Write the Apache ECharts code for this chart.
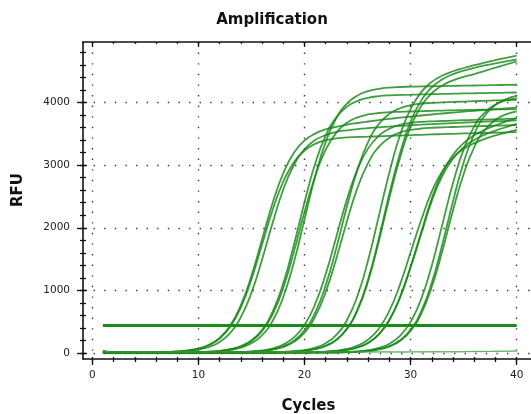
<!DOCTYPE html>
<html><head><meta charset="utf-8">
<script src="https://cdn.jsdelivr.net/npm/echarts@6/dist/echarts.min.js"></script>
<style>html,body{margin:0;padding:0;background:#fff}#c{width:531px;height:414px}</style>
</head><body><div id="c"></div>
<script>
const cycles = [1,2,3,4,5,6,7,8,9,10,11,12,13,14,15,16,17,18,19,20,21,22,23,24,25,26,27,28,29,30,31,32,33,34,35,36,37,38,39,40];
const xMajor = [0,10,20,30,40];
const xMinor = [0,2,4,6,8,10,12,14,16,18,20,22,24,26,28,30,32,34,36,38,40];
const yMajor = [0,1000,2000,3000,4000];
const yMinor = [0,200,400,600,800,1000,1200,1400,1600,1800,2000,2200,2400,2600,2800,3000,3200,3400,3600,3800,4000,4200,4400,4600,4800];
const thresholdValue = 440;
const thresholdCycles = [1,40];

const g1a = [12,9,8,9,10,12,17,25,40,70,127,232,419,728,1178,1733,2288,2738,3047,3234,3339,3396,3426,3442,3449,3454,3460,3466,3472,3478,3484,3490,3495,3500,3505,3510,3514,3518,3522,3526];
const g1b = [30,10,8,9,8,10,14,20,32,54,97,177,323,574,965,1494,2082,2611,3002,3253,3399,3479,3530,3556,3575,3590,3603,3615,3626,3636,3645,3654,3662,3670,3678,3686,3693,3700,3707,3714];
const g1c = [9,10,8,9,11,13,18,25,42,73,133,243,440,764,1236,1818,2400,2873,3197,3393,3503,3570,3612,3645,3672,3696,3718,3738,3757,3775,3792,3808,3824,3839,3853,3867,3880,3893,3905,3917];
const g2a = [11,9,10,8,9,10,9,11,12,15,22,36,62,111,203,372,663,1116,1728,2408,3020,3473,3764,3933,4025,4074,4100,4114,4120,4124,4128,4132,4136,4140,4144,4147,4150,4153,4156,4159];
const g2b = [9,10,8,9,11,10,9,10,11,13,18,28,48,85,155,284,515,895,1450,2133,2816,3371,3751,3982,4111,4182,4218,4238,4247,4252,4256,4259,4262,4265,4268,4271,4274,4277,4280,4283];
const g2c = [35,9,8,10,9,11,10,9,10,15,21,34,58,104,190,348,620,1043,1615,2251,2823,3246,3518,3676,3762,3808,3832,3845,3851,3856,3861,3866,3870,3874,3878,3882,3885,3888,3891,3894];
const g3a = [10,8,9,11,9,10,8,9,10,11,9,10,13,17,26,42,75,136,249,449,780,1263,1858,2453,2936,3267,3468,3580,3641,3674,3690,3699,3704,3710,3716,3722,3727,3732,3737,3742];
const g3b = [9,11,10,8,9,10,9,11,8,10,9,10,11,15,22,35,60,108,198,362,644,1084,1678,2338,2932,3372,3654,3818,3908,3956,3981,3994,4001,4008,4014,4020,4026,4032,4037,4042];
const g3c = [10,9,8,10,11,9,10,8,9,11,10,9,10,14,20,32,55,98,179,326,580,976,1511,2105,2640,3036,3290,3437,3518,3561,3584,3596,3602,3608,3614,3619,3624,3629,3634,3639];
const g4a = [28,9,10,8,9,10,11,9,8,10,9,11,10,9,10,11,14,19,29,48,86,158,291,527,916,1484,2183,2882,3480,3899,4165,4328,4430,4498,4550,4595,4636,4675,4712,4748];
const g4b = [10,8,9,11,9,10,9,8,10,11,9,10,8,9,11,10,12,16,23,36,63,114,209,384,683,1151,1782,2484,3115,3613,3942,4147,4272,4353,4410,4454,4505,4555,4606,4657];
const g4c = [9,10,8,10,9,11,10,9,8,10,9,11,10,8,9,10,12,16,23,37,65,117,214,393,699,1178,1824,2542,3188,3697,4033,4242,4369,4451,4509,4553,4590,4624,4656,4687];
const g5a = [11,9,8,10,9,10,11,9,8,10,9,10,11,9,10,8,9,10,11,12,16,23,38,66,118,216,389,676,1093,1608,2123,2580,2907,3120,3258,3350,3418,3473,3520,3564];
const g5b = [10,9,11,8,9,10,9,11,10,8,9,10,9,11,10,9,8,10,9,11,14,19,30,51,91,164,300,532,895,1385,1931,2471,2884,3166,3352,3476,3565,3636,3697,3752];
const g5c = [9,10,8,9,11,10,9,8,10,9,11,10,9,8,10,9,11,10,9,10,14,19,30,50,89,162,295,524,882,1365,1901,2429,2832,3106,3284,3402,3486,3551,3607,3657];
const g6a = [10,9,11,8,10,9,10,11,9,8,10,9,11,10,9,10,8,9,11,10,9,10,13,18,28,46,82,149,275,497,864,1399,2058,2717,3252,3619,3842,3967,4034,4070];
const g6b = [9,10,8,11,9,10,9,8,10,11,9,10,8,9,10,11,9,10,9,8,10,9,11,15,22,36,62,112,205,375,667,1124,1740,2426,3042,3499,3791,3961,4054,4104];
const g6c = [11,9,10,8,9,10,11,9,10,8,9,11,10,9,8,10,9,11,10,9,10,8,9,15,21,34,59,106,193,353,628,1057,1636,2280,2859,3288,3563,3723,3811,3857];
const ntc1 = [25,22,20,21,22,20,21,23,22,21,20,22,23,21,22,20,21,22,23,22,21,20,22,21,23,22,21,22,20,21,23,22,24,23,25,27,28,30,33,36];
const ntc2 = [18,15,14,15,16,14,15,16,15,14,15,16,15,14,16,15,14,15,16,15,14,15,16,15,14,16,15,16,15,17,16,18,17,19,20,22,24,26,28,30];

const curveList = [g1a,g1b,g1c,g2a,g2b,g2c,g3a,g3b,g3c,g4a,g4b,g4c,g5a,g5b,g5c,g6a,g6b,g6c];

const X_MIN = -0.88, X_MAX = 41.63, Y_MIN = -95, Y_MAX = 4965;
const INK = '#111';
const FONT = 'DejaVu Sans';

function axisBase(min, max) {
  return {type:'value', min:min, max:max, axisLine:{show:false, onZero:false},
    axisLabel:{show:false}, splitLine:{show:false}, axisTick:{show:false}};
}
function tickAxis(kind, pos, vals, len, inside, withLine) {
  const a = kind === 'x' ? axisBase(X_MIN, X_MAX) : axisBase(Y_MIN, Y_MAX);
  a.position = pos;
  a.axisLine = {show: !!withLine, onZero:false, lineStyle:{color:INK, width:1.6}};
  a.axisTick = {show:true, customValues: vals, length: len, inside: inside, lineStyle:{color:INK, width:1.3}};
  return a;
}
const dotted = {show:true, lineStyle:{color:'#3a3a3a', width:1.4, type:[1.4, 9.2]}};
const nameStyle = {fontFamily:FONT, fontWeight:'bold', fontSize:15, color:INK};
const labelStyle = {fontFamily:FONT, fontSize:10.5, color:'#222', formatter:function(v){return String(v);}};

const xMain = tickAxis('x','bottom', xMajor, 6, false, true);
xMain.axisLabel = Object.assign({show:true, customValues:xMajor, margin:11}, labelStyle);
xMain.splitLine = dotted;
xMain.name = 'Cycles'; xMain.nameLocation = 'middle'; xMain.nameGap = 40; xMain.nameTextStyle = nameStyle;

const yMain = tickAxis('y','left', yMajor, 6, false, true);
yMain.axisLabel = Object.assign({show:true, customValues:yMajor, margin:13}, labelStyle);
yMain.splitLine = dotted;
yMain.name = 'RFU'; yMain.nameLocation = 'middle'; yMain.nameGap = 57;
yMain.nameTextStyle = Object.assign({padding:[0,0,0,21]}, nameStyle);

const xAxes = [
  xMain,
  tickAxis('x','bottom', xMinor, 3, false, false),
  tickAxis('x','bottom', xMinor, 2, true, false),
  tickAxis('x','top', xMajor, 5, true, true),
  tickAxis('x','top', xMinor, 2, true, false)
];
const yAxes = [
  yMain,
  tickAxis('y','left', yMinor, 3, false, false),
  tickAxis('y','left', yMinor, 3, true, false),
  tickAxis('y','left', yMajor, 4, true, false)
];

const series = [];
curveList.forEach(function(arr){
  series.push({type:'line', xAxisIndex:0, yAxisIndex:0, symbol:'none', smooth:0.5,
    data: cycles.map(function(c,i){return [c, arr[i]];}),
    lineStyle:{color:'rgba(22,136,22,0.82)', width:1.8}, silent:true, z:2});
});
[ntc1, ntc2].forEach(function(arr){
  series.push({type:'line', xAxisIndex:0, yAxisIndex:0, symbol:'none', smooth:0.5,
    data: cycles.map(function(c,i){return [c, arr[i]];}),
    lineStyle:{color:'rgba(60,160,60,0.55)', width:1.2}, silent:true, z:2});
});
series.push({type:'line', xAxisIndex:0, yAxisIndex:0, symbol:'none',
  data: thresholdCycles.map(function(c){return [c, thresholdValue];}),
  lineStyle:{color:'#178c17', width:3}, silent:true, z:3});

const chart = echarts.init(document.getElementById('c'), null, {renderer:'canvas'});
chart.setOption({
  animation:false,
  backgroundColor:'#fff',
  title:{text:'Amplification', left:272, top:13, textAlign:'center', padding:0,
    textStyle:{fontFamily:FONT, fontWeight:'bold', fontSize:15, color:INK}},
  grid:{left:83, top:42, width:451, height:317, containLabel:false, outerBoundsMode:'none'},
  xAxis:xAxes,
  yAxis:yAxes,
  series:series
});
</script></body></html>
